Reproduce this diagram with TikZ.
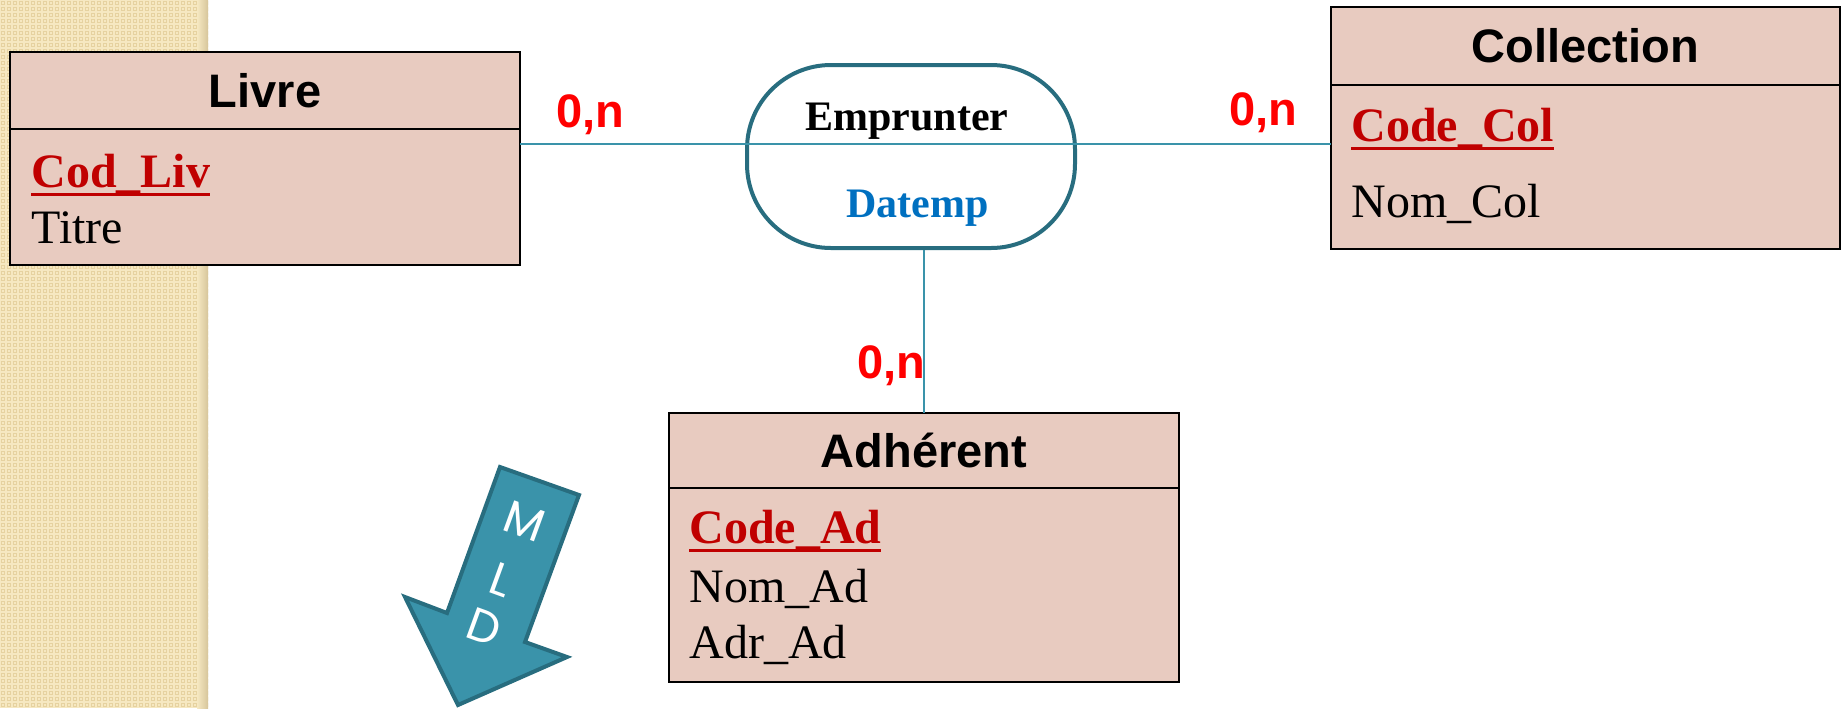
\documentclass[tikz,border=0pt]{standalone}
\usepackage{fontspec}
\setmainfont{Liberation Serif}
\newfontfamily\arial{Liberation Sans}
\newfontfamily\mldfont{Poppins}
\usetikzlibrary{patterns}

\definecolor{rose}{HTML}{E8CBC0}
\definecolor{sable}{HTML}{F6E8C1}
\definecolor{sablefonce}{HTML}{E6D2A0}
\definecolor{sablebord}{HTML}{D6C59B}
\definecolor{rougecle}{HTML}{C00000}
\definecolor{bleuatt}{HTML}{0070C0}
\definecolor{petrole}{HTML}{286D7F}
\definecolor{turquoise}{HTML}{3A93AA}

% petit damier du bandeau de gauche
\pgfdeclarepatternformonly{damier}{\pgfpoint{-0.5pt}{-0.5pt}}{\pgfpoint{3.5pt}{3.5pt}}{\pgfpoint{3pt}{3pt}}{%
  \pgfsetlinewidth{0.5pt}%
  \pgfpathrectangle{\pgfpoint{0.75pt}{0.75pt}}{\pgfpoint{1.5pt}{1.5pt}}%
  \pgfusepath{stroke}}

% identifiant souligne
\newcommand{\cle}[1]{\setbox0\hbox{#1}\rlap{\rule[-4.5pt]{\wd0}{1.5pt}}\box0}

\tikzset{
  entete/.style={draw, line width=1pt, fill=rose, inner sep=0pt, outer sep=0pt,
    font=\arial\bfseries\fontsize{23.5}{28}\selectfont},
  corps/.style={draw, line width=1pt, fill=rose, inner sep=0pt, outer sep=0pt, anchor=north},
  attr/.style={anchor=base west, inner sep=0pt, font=\fontsize{24}{29}\selectfont},
  clef/.style={attr, text=rougecle, font=\bfseries\fontsize{24}{29}\selectfont},
  card/.style={anchor=base west, inner sep=0pt, text=red,
    font=\arial\bfseries\fontsize{23.5}{28}\selectfont},
  lien/.style={turquoise, line width=1pt},
  lettre/.style={rotate=-20, inner sep=0pt, text=white,
    font=\mldfont\fontsize{23}{28}\selectfont},
}

\begin{document}
\begin{tikzpicture}[x=0.5pt,y=-0.5pt]
\useasboundingbox (0,0) rectangle (1843,708);
% bandeau
\fill[sable] (0,0) rectangle (208,708);
\fill[pattern=damier, pattern color=sablefonce] (0,0) rectangle (208,708);
\shade[left color=sable, right color=sablebord] (197,0) rectangle (208,708);

% entites
\node[entete, minimum width=255pt, minimum height=38.5pt] (livreT) at (265,90.5) {Livre};
\node[corps, minimum width=255pt, minimum height=68pt] (livreC) at (livreT.south) {};
\node[clef] (codliv) at (31,187) {\cle{Cod\_Liv}};
\node[attr] (titre) at (31,243) {Titre};

\node[entete, minimum width=254.5pt, minimum height=39pt] (collT) at (1585.5,46) {Collection};
\node[corps, minimum width=254.5pt, minimum height=82pt] (collC) at (collT.south) {};
\node[clef] (codecol) at (1351,141) {\cle{Code\_Col}};
\node[attr] (nomcol) at (1351,217) {Nom\_Col};

\node[entete, minimum width=255pt, minimum height=37.5pt] (adhT) at (924,450.5) {Adhérent};
\node[corps, minimum width=255pt, minimum height=97pt] (adhC) at (adhT.south) {};
\node[clef] (codead) at (689,543) {\cle{Code\_Ad}};
\node[attr] (nomad) at (689,602) {Nom\_Ad};
\node[attr] (adrad) at (689,658) {Adr\_Ad};

% association
\node[draw=petrole, line width=2pt, rounded corners=42pt,
  minimum width=164pt, minimum height=91.5pt] (emp) at (911,156.5) {};
\node[anchor=base, inner sep=0pt, font=\bfseries\fontsize{21}{25}\selectfont] (empnom) at (907,130) {Emprunter};
\node[anchor=base, inner sep=0pt, text=bleuatt, font=\bfseries\fontsize{21}{25}\selectfont] (datemp) at (917.5,217) {Datemp};

\coordinate (axe) at (911,144);
\draw[lien] (livreC.east |- axe) -- (collC.west |- axe);
\draw[lien] (adhT.north) -- (adhT.north |- emp.south);

\node[card] (c1) at (556,127) {0,n};
\node[card] (c2) at (1229,125) {0,n};
\node[card] (c3) at (857,378) {0,n};

% fleche MLD
\draw[fill=turquoise, draw=petrole, line width=2pt, line join=miter]
  (500,467) -- (579,495) -- (525,642) -- (567,657) -- (458,705) -- (405,597) -- (447,613) -- cycle;
\node[lettre] (m) at (525,521) {M};
\node[lettre] (l) at (501,580) {L};
\node[lettre] (d) at (484,627) {D};
\end{tikzpicture}
\end{document}
